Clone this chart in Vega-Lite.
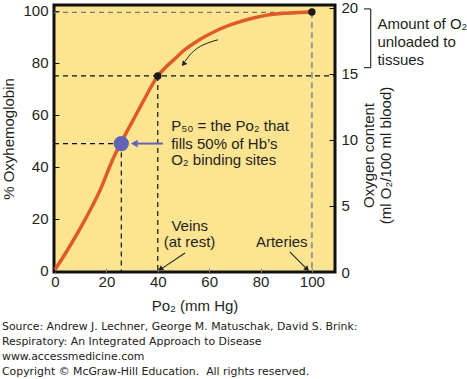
{
  "$schema": "https://vega.github.io/schema/vega-lite/v6.json",
  "autosize": {"type": "none"},
  "padding": {"left": 54, "top": 5, "right": 132, "bottom": 107},
  "width": 281,
  "height": 267,
  "background": "white",
  "config": {
    "view": {"fill": "#FDE490", "stroke": "#111", "strokeWidth": 3},
    "font": "Liberation Sans",
    "axis": {"labelFont": "Liberation Sans", "labelFontSize": 15, "labelColor": "#231F20", "titleFont": "Liberation Sans", "titleFontSize": 15, "titleFontWeight": "normal", "titleColor": "#231F20", "grid": false, "domain": false}
  },
  "title": {
    "text": ["Source: Andrew J. Lechner, George M. Matuschak, David S. Brink:", "Respiratory: An Integrated Approach to Disease", "www.accessmedicine.com", "Copyright © McGraw-Hill Education.\u00a0 All rights reserved."],
    "orient": "bottom",
    "anchor": "start",
    "font": "DejaVu Sans",
    "fontSize": 10.9,
    "fontWeight": "normal",
    "color": "#222",
    "lineHeight": 15.1,
    "offset": 8,
    "frame": "bounds"
  },
  "encoding": {
    "x": {"field": "P", "type": "quantitative", "scale": {"domain": [-0.4, 109], "nice": false, "zero": false},
      "axis": {"values": [0, 20, 40, 60, 80, 100], "tickSize": -4, "tickColor": "#888", "labelPadding": 6, "title": "Po₂ (mm Hg)", "titlePadding": 9, "labelFlush": false}},
    "y": {"field": "S", "type": "quantitative", "scale": {"domain": [-0.4, 102.3], "nice": false, "zero": false},
      "axis": {"values": [0, 20, 40, 60, 80, 100], "tickSize": -5, "tickColor": "#111", "labelPadding": 11, "title": "% Oxyhemoglobin", "titlePadding": 6, "labelFlush": false}}
  },
  "layer": [
    {
      "layer": [
        {
          "data": {"values": [
            {"P": -0.4, "P2": 100, "S": 99.5, "S2": 99.5}
          ]},
          "mark": {"type": "rule", "color": "#777", "strokeWidth": 1.2, "strokeDash": [5, 4]},
          "encoding": {"x2": {"field": "P2"}, "y2": {"field": "S2"}}
        },
        {
          "data": {"values": [
            {"P": 100, "P2": 100, "S": 99.5, "S2": -0.4}
          ]},
          "mark": {"type": "rule", "color": "#999", "strokeWidth": 2, "strokeDash": [6, 4]},
          "encoding": {"x2": {"field": "P2"}, "y2": {"field": "S2"}}
        },
        {
          "data": {"values": [
            {"P": -0.4, "P2": 109, "S": 75, "S2": 75},
            {"P": 40, "P2": 40, "S": 75, "S2": -0.4},
            {"P": -0.4, "P2": 25.8, "S": 49, "S2": 49},
            {"P": 25.8, "P2": 25.8, "S": 49, "S2": -0.4}
          ]},
          "mark": {"type": "rule", "color": "#111", "strokeWidth": 1.2, "strokeDash": [5, 4]},
          "encoding": {"x2": {"field": "P2"}, "y2": {"field": "S2"}}
        },
        {
          "data": {"values": [
            {"P": 0, "S": 0.5}, {"P": 4.5, "S": 7.5}, {"P": 11, "S": 18.5}, {"P": 17.5, "S": 31},
            {"P": 22.6, "S": 43.2}, {"P": 25.8, "S": 49.5}, {"P": 30.4, "S": 58}, {"P": 35, "S": 66.5},
            {"P": 40, "S": 75}, {"P": 43, "S": 78.3}, {"P": 46, "S": 81}, {"P": 50, "S": 84.7},
            {"P": 56, "S": 88.8}, {"P": 63, "S": 92.5}, {"P": 70, "S": 95.2}, {"P": 76, "S": 97},
            {"P": 82, "S": 98.3}, {"P": 89, "S": 99.1}, {"P": 95, "S": 99.4}, {"P": 100, "S": 99.6}
          ]},
          "mark": {"type": "line", "color": "#E0592A", "strokeWidth": 3.5, "interpolate": "monotone"}
        },
        {
          "data": {"values": [{"P": 40, "S": 75}, {"P": 100, "S": 99.6}]},
          "mark": {"type": "point", "filled": true, "color": "#1a1a1a", "size": 55, "opacity": 1}
        },
        {
          "data": {"values": [{"P": 32, "P2": 42, "S": 49, "S2": 49}]},
          "mark": {"type": "rule", "color": "#6363B5", "strokeWidth": 2},
          "encoding": {"x2": {"field": "P2"}, "y2": {"field": "S2"}}
        },
        {
          "data": {"values": [{"P": 31.3, "S": 49}]},
          "mark": {"type": "point", "shape": "triangle", "filled": true, "color": "#6363B5", "size": 60, "angle": 270, "opacity": 1}
        },
        {
          "data": {"values": [{"P": 25.8, "S": 49}]},
          "mark": {"type": "point", "filled": true, "color": "#6363B5", "size": 235, "opacity": 1}
        },
        {
          "data": {"values": [
            {"P": 63.4, "S": 88.9}, {"P": 59.5, "S": 87.7}, {"P": 55.6, "S": 85.8}, {"P": 52.5, "S": 83.1}, {"P": 50.6, "S": 80.6}
          ]},
          "mark": {"type": "line", "color": "#222", "strokeWidth": 1, "interpolate": "monotone"}
        },
        {
          "data": {"values": [{"P": 50.2, "S": 79.8}]},
          "mark": {"type": "point", "shape": "triangle", "filled": true, "color": "#222", "size": 35, "angle": 220, "opacity": 1}
        },
        {
          "data": {"values": [
            {"P": 50.6, "P2": 41.8, "S": 6.9, "S2": 1.1},
            {"P": 91.4, "P2": 97.6, "S": 7.3, "S2": 1.2},
            {"P": 120.3, "P2": 122.9, "S": 100.8, "S2": 100.8},
            {"P": 120.3, "P2": 122.9, "S": 78.2, "S2": 78.2},
            {"P": 122.9, "P2": 122.9, "S": 100.8, "S2": 78.2}
          ]},
          "mark": {"type": "rule", "color": "#222", "strokeWidth": 1.1},
          "encoding": {"x2": {"field": "P2"}, "y2": {"field": "S2"}}
        },
        {
          "data": {"values": [{"P": 41.3, "S": 0.9}]},
          "mark": {"type": "point", "shape": "triangle", "filled": true, "color": "#222", "size": 35, "angle": 236, "opacity": 1}
        },
        {
          "data": {"values": [{"P": 97.9, "S": 0.9}]},
          "mark": {"type": "point", "shape": "triangle", "filled": true, "color": "#222", "size": 35, "angle": 135, "opacity": 1}
        },
        {
          "data": {"values": [
            {"P": 45.2, "S": 55.6, "t": "P₅₀ = the Po₂ that"},
            {"P": 45.2, "S": 49, "t": "fills 50% of Hb’s"},
            {"P": 45.2, "S": 42.5, "t": "O₂ binding sites"},
            {"P": 45.3, "S": 17.2, "t": "Veins"},
            {"P": 42.3, "S": 11.1, "t": "(at rest)"},
            {"P": 78.2, "S": 11.1, "t": "Arteries"},
            {"P": 125.5, "S": 95, "t": "Amount of O₂"},
            {"P": 125.5, "S": 88.1, "t": "unloaded to"},
            {"P": 125.5, "S": 81.2, "t": "tissues"}
          ]},
          "mark": {"type": "text", "align": "left", "baseline": "middle", "font": "Liberation Sans", "fontSize": 15, "color": "#231F20"},
          "encoding": {"text": {"field": "t", "type": "nominal"}}
        }
      ]
    },
    {
      "data": {"values": [{"C": 0}, {"C": 20}]},
      "mark": {"type": "point", "opacity": 0},
      "encoding": {
        "y": {"field": "C", "type": "quantitative", "scale": {"domain": [0, 20.2], "nice": false, "zero": false},
          "axis": {"orient": "right", "values": [0, 5, 10, 15, 20], "tickSize": -6, "tickColor": "#111", "labelPadding": 12, "title": ["Oxygen content", "(ml O₂/100 ml blood)"], "titleAngle": -90, "titlePadding": 2, "titleY": 150, "labelFlush": false}}
      }
    }
  ],
  "resolve": {"scale": {"y": "independent"}}
}
